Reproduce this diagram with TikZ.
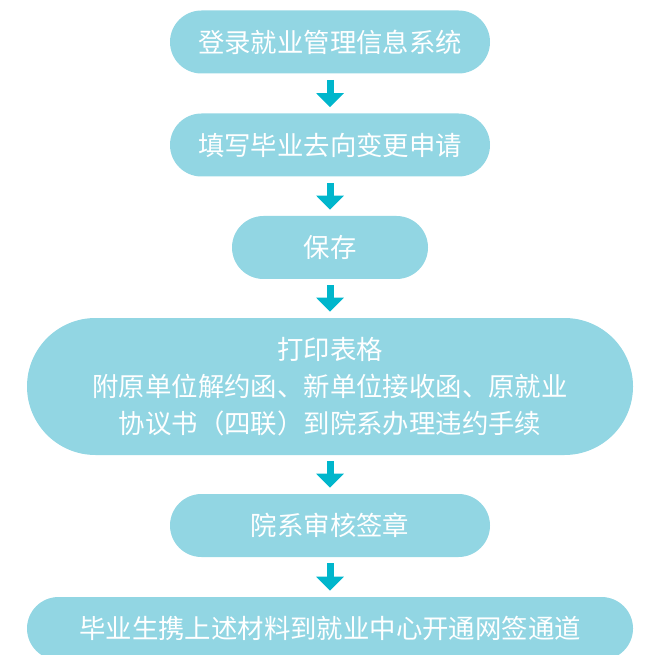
\documentclass[tikz,border=0pt]{standalone}
\usepackage{fontspec}
\usepackage{xcolor}
\usepackage{tikz}
\usetikzlibrary{arrows.meta, shapes.misc}
\newfontfamily\cjk{Noto Sans CJK SC}
\definecolor{boxcyan}{RGB}{146, 214, 227}
\definecolor{arrowcyan}{RGB}{0, 182, 204}

\begin{document}
\begin{tikzpicture}[
    x=0.75pt, y=-0.75pt,
    stepbox/.style={rounded rectangle, fill=boxcyan, text=white, inner sep=0pt, minimum width=240pt, minimum height=47.25pt, font=\cjk\fontsize{19.8}{27.75}\selectfont, align=center},
    flow/.style={-{Triangle[width=20pt, length=10.5pt]}, draw=arrowcyan, line width=5.25pt, shorten <=4.5pt, shorten >=4.5pt}
]
    \useasboundingbox (0, 0) rectangle (652, 655);

    % Steps
    \node (login) [stepbox] at (330, 42) {登录就业管理信息系统};
    \node (apply) [stepbox] at (330, 145) {填写毕业去向变更申请};
    \node (save) [stepbox, minimum width=147pt] at (330, 247.5) {保存};
    \node (print) [stepbox, minimum width=454.5pt, minimum height=102.75pt] at (330, 386.5) {打印表格\\附原单位解约函、新单位接收函、原就业\\协议书（四联）到院系办理违约手续};
    \node (review) [stepbox] at (330, 525.5) {院系审核签章};
    \node (center) [stepbox, minimum width=454.5pt] at (330, 628.5) {毕业生携上述材料到就业中心开通网签通道};

    % Arrows
    \draw [flow] (login.south) -- (apply.north);
    \draw [flow] (apply.south) -- (save.north);
    \draw [flow] (save.south) -- (print.north);
    \draw [flow] (print.south) -- (review.north);
    \draw [flow] (review.south) -- (center.north);

\end{tikzpicture}
\end{document}
